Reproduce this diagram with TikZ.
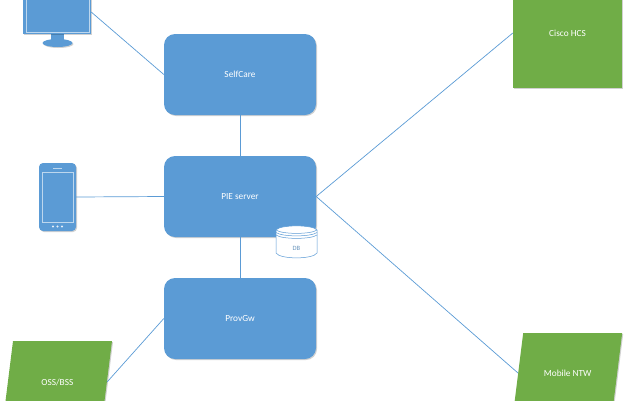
\documentclass[tikz,border=0pt]{standalone}
\usepackage{fontspec}
\setmainfont{Carlito}
\usetikzlibrary{shapes.geometric,shadows}
\definecolor{boxblue}{HTML}{5B9BD5}
\definecolor{boxgreen}{HTML}{70AD47}
\definecolor{framelight}{HTML}{BDD7EE}
\tikzset{
	softshadow/.style={drop shadow={shadow xshift=1pt, shadow yshift=-1pt, fill=black, opacity=0.18}},
	serverbox/.style={rectangle, rounded corners=11pt, fill=boxblue, text=white, minimum width=152pt, minimum height=81pt, inner sep=0pt, softshadow},
	greenbox/.style={rectangle, fill=boxgreen, inner sep=0pt, softshadow},
	slantbox/.style={greenbox, minimum width=99pt, transform shape, xslant=0.125},
	greentext/.style={text=white, inner sep=0pt},
	devicebody/.style={rectangle, fill=boxblue, inner sep=0pt, softshadow},
	devicepart/.style={fill=boxblue},
	frameline/.style={draw=framelight, line width=0.8pt},
	wire/.style={draw=boxblue, line width=0.7pt},
	dbline/.style={draw=boxblue, line width=0.5pt}
}
\begin{document}
\begin{tikzpicture}[x=1pt, y=-1pt, font=\fontsize{9.3}{11}\selectfont]
	\useasboundingbox (0, 0) rectangle (626, 400);
	\clip (0, 0) rectangle (626, 400);
	\node[serverbox] (selfcare) at (240, 74.5) {SelfCare};
	\node[serverbox] (pie) at (240, 196.5) {PIE server};
	\node[serverbox] (provgw) at (240, 318.5) {ProvGw};
	\node[greenbox, minimum width=109pt, minimum height=110pt, text=white] (cisco) at (567.5, 33) {Cisco HCS};
	\node[slantbox, minimum height=82pt] (oss) at (57.4, 382) {};
	\node[greentext] (osslabel) at (oss.center) {OSS/BSS};
	\node[slantbox, minimum height=80pt] (mobile) at (567.7, 373) {};
	\node[greentext] (mobilelabel) at (mobile.center) {Mobile NTW};
	\fill[devicepart, softshadow] (57.5, 43) ellipse (15 and 4);
	\fill[devicepart] (51, 33) rectangle (64, 41);
	\node[devicebody, minimum width=68pt, minimum height=44pt] (monitor) at (57, 12) {};
	\draw[frameline] (26, -5) rectangle (89, 32);
	\node[devicebody, rounded corners=4pt, minimum width=37pt, minimum height=68pt] (phone) at (57.5, 197) {};
	\draw[frameline] (42.5, 172.5) rectangle (73, 222);
	\draw[frameline] (53, 168.5) -- (62, 168.5);
	\foreach \x in {53,57.5,62}
		\fill[white!85!boxblue] (\x, 226.5) circle (1.1);
	\filldraw[dbline, fill=white] (276, 230) -- (276, 253) .. controls (280, 259.5) and (313, 259.5) .. (317, 253) -- (317, 230) .. controls (313, 224.5) and (280, 224.5) .. (276, 230) -- cycle;
	\foreach \y in {230,232.5,235}
		\draw[dbline] (276, \y) .. controls (282, \y+4.5) and (311, \y+4.5) .. (317, \y);
	\node[inner sep=0pt, text=boxblue!70!gray, font=\fontsize{6.5}{7}\selectfont] (db) at (296.5, 248) {DB};
	\draw[wire] (monitor.east) -- (selfcare.west);
	\draw[wire] (selfcare.south) -- (pie.north);
	\draw[wire] (phone.east) -- (pie.west);
	\draw[wire] (pie.south) -- (provgw.north);
	\draw[wire] (provgw.west) -- (oss.east);
	\draw[wire] (pie.east) -- (cisco.west);
	\draw[wire] (pie.east) -- (mobile.west);
\end{tikzpicture}
\end{document}
